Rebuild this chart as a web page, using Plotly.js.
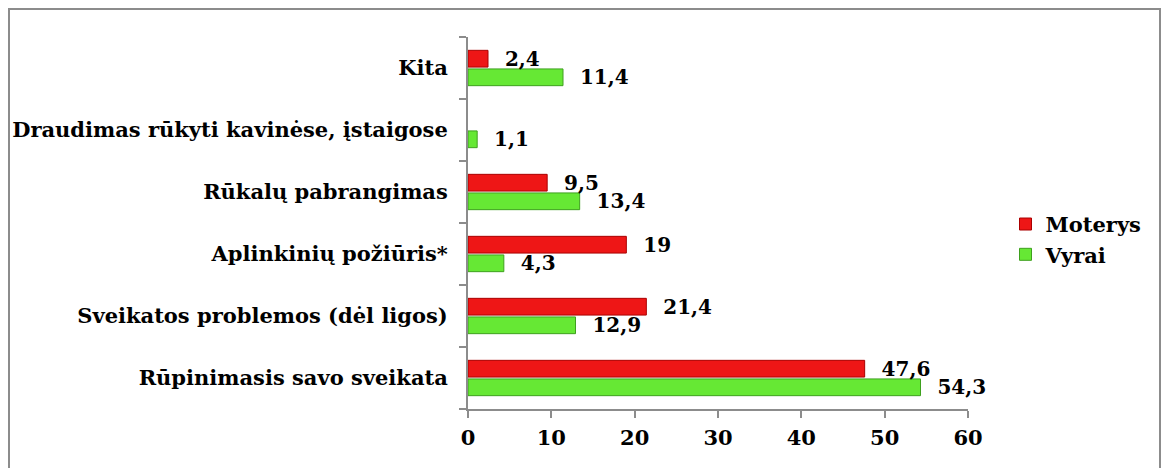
<!DOCTYPE html>
<html>
<head>
<meta charset="utf-8">
<script src="https://cdn.plot.ly/plotly-3.0.1.min.js"></script>
<style>
  html, body { margin: 0; padding: 0; background: #fff; }
  #wrap { position: relative; width: 1170px; height: 468px; overflow: hidden; }
  #frame { position: absolute; left: 8px; top: 8px; width: 1153px; height: 480px;
           border: 2px solid #8c8c8c; box-sizing: border-box; pointer-events: none; z-index: 5; }
  #chart { position: absolute; left: 0; top: 0; width: 1170px; height: 468px; }
</style>
</head>
<body>
<div id="wrap">
  <div id="chart"></div>
  <div id="frame"></div>
</div>
<script>
const categories = [
  "Rūpinimasis savo sveikata",
  "Sveikatos problemos (dėl ligos)",
  "Aplinkinių požiūris*",
  "Rūkalų pabrangimas",
  "Draudimas rūkyti kavinėse, įstaigose",
  "Kita"
];
const moterys = [47.6, 21.4, 19, 9.5, null, 2.4];
const vyrai   = [54.3, 12.9, 4.3, 13.4, 1.1, 11.4];
const xTicks = [0, 10, 20, 30, 40, 50, 60];

const pad = "\u00a0\u00a0";
const fmt = v => (v === null ? "" : pad + String(v).replace(".", ","));

const FAM = "DejaVu Serif";
const labelFont = { family: FAM, size: 20, color: "#000", weight: "bold" };

const traces = [
  {
    type: "bar", orientation: "h", name: "Vyrai",
    y: categories, x: vyrai,
    text: vyrai.map(fmt), textposition: "outside", cliponaxis: false,
    constraintext: "none",
    textfont: labelFont,
    marker: { color: "rgb(102,232,52)", line: { color: "rgb(62,160,30)", width: 1 } },
    legendrank: 2
  },
  {
    type: "bar", orientation: "h", name: "Moterys",
    y: categories, x: moterys,
    text: moterys.map(fmt), textposition: "outside", cliponaxis: false,
    constraintext: "none",
    textfont: labelFont,
    marker: { color: "rgb(238,22,22)", line: { color: "rgb(170,0,0)", width: 1 } },
    legendrank: 1
  }
];

const layout = {
  width: 1170, height: 468,
  margin: { l: 468, r: 202, t: 37, b: 59, pad: 0 },
  paper_bgcolor: "#fff", plot_bgcolor: "#fff",
  barmode: "group", bargap: 0.4, bargroupgap: 0.1,
  font: { family: FAM, size: 20, color: "#000" },
  xaxis: {
    range: [0, 60], tickvals: xTicks, ticktext: xTicks.map(String),
    showgrid: false, zeroline: false,
    showline: true, linecolor: "#8c8c8c", linewidth: 2,
    ticks: "outside", ticklen: 7, tickcolor: "#8c8c8c", tickwidth: 2,
    ticklabelstandoff: 2,
    tickfont: { family: FAM, size: 21, color: "#000", weight: "bold" },
    fixedrange: true
  },
  yaxis: {
    type: "category", showgrid: false, zeroline: false,
    showline: true, linecolor: "#8c8c8c", linewidth: 2,
    ticks: "outside", ticklen: 7, tickcolor: "#8c8c8c", tickwidth: 2,
    tickson: "boundaries", ticklabelstandoff: 14,
    tickfont: { family: FAM, size: 21, color: "#000", weight: "bold" },
    fixedrange: true
  },
  showlegend: true,
  legend: {
    x: 1.075, xanchor: "left", y: 0.456, yanchor: "middle",
    traceorder: "normal", tracegroupgap: 0,
    font: { family: FAM, size: 21, color: "#000", weight: "bold" },
    itemwidth: 30, bgcolor: "rgba(0,0,0,0)"
  }
};

Plotly.newPlot("chart", traces, layout, { displayModeBar: false, staticPlot: true });
</script>
</body>
</html>
